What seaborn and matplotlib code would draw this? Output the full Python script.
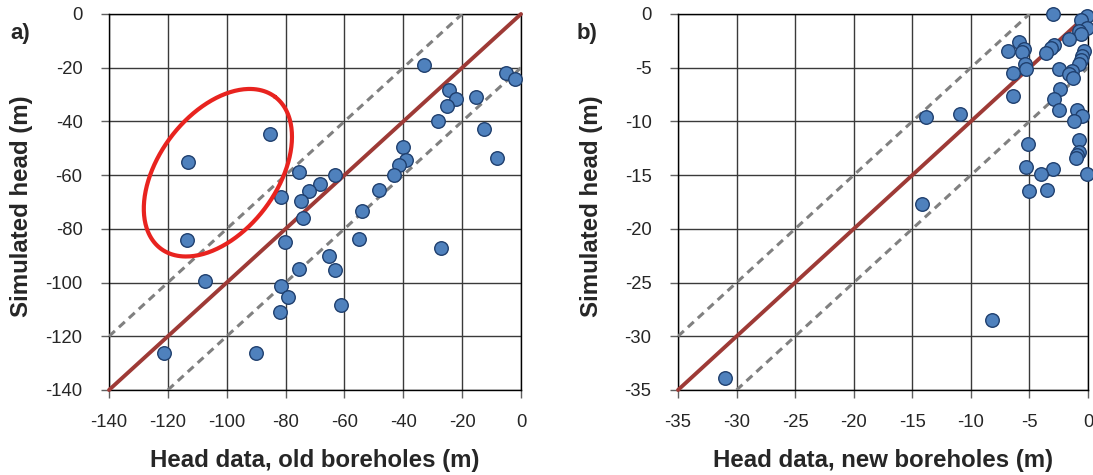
import numpy as np
import pandas as pd
import matplotlib
matplotlib.use("Agg")
import matplotlib.pyplot as plt
import seaborn as sns

# Panel a: old boreholes
old_obs = [-33, -5, -2, -24.4, -22.2, -15.3, -25.1, -28.1, -12.6, -85.3, -113.3,
           -40.2, -39.0, -41.3, -43.3, -8.2, -75.3, -63.2, -68.2, -71.9, -48.1,
           -81.7, -74.8, -54.1, -74.0, -113.4, -80.1, -55.0, -27.1, -65.2, -63.2,
           -75.3, -107.3, -81.7, -79.2, -81.8, -61.1, -121.2, -90.1]
old_sim = [-19.0, -21.9, -24.1, -28.4, -31.5, -30.8, -34.4, -40.0, -43.0, -44.7, -55.1,
           -49.4, -54.2, -56.4, -60.0, -53.5, -59.0, -60.0, -63.3, -65.8, -65.7,
           -68.2, -69.6, -73.4, -76.1, -84.1, -84.8, -83.6, -87.0, -90.1, -95.3,
           -95.0, -99.6, -101.3, -105.5, -111.0, -108.4, -126.3, -126.3]

# Panel b: new boreholes
new_obs = [-3.0, -0.1, -0.6, -0.1, -0.8, -0.6, -1.6, -5.9, -6.8, -5.5, -5.6, -2.9, -3.2,
           -3.6, -0.3, -0.5, -0.6, -0.8, -5.4, -5.3, -6.4, -2.5, -1.4, -1.6, -1.3, -6.4,
           -2.4, -2.9, -2.5, -0.9, -0.5, -1.2, -13.8, -10.9, -5.1, -0.8, -0.8, -0.9,
           -1.0, -5.3, -3.0, -4.0, -0.1, -5.0, -3.5, -14.2, -8.2, -31.0]
new_sim = [0.0, -0.2, -0.6, -1.3, -1.6, -1.9, -2.3, -2.6, -3.4, -3.3, -3.5, -2.9, -3.2,
           -3.6, -3.4, -3.9, -4.3, -4.7, -4.7, -5.1, -5.5, -5.1, -5.3, -5.6, -6.0, -7.6,
           -7.0, -7.9, -8.9, -8.9, -9.5, -10.0, -9.6, -9.3, -12.1, -11.7, -12.8, -13.1,
           -13.4, -14.2, -14.4, -14.9, -14.9, -16.5, -16.4, -17.7, -28.5, -33.9]

ticks_a = [-140, -120, -100, -80, -60, -40, -20, 0]
ticks_b = [-35, -30, -25, -20, -15, -10, -5, 0]
band_a = 20
band_b = 5

sns.set_theme(style="white")
plt.rcParams['font.family'] = ['Liberation Sans', 'DejaVu Sans']

W, H = 1093, 475
fig = plt.figure(figsize=(W / 100, H / 100), dpi=100)
ax_a = fig.add_axes([109 / W, 85 / H, 412 / W, 376 / H])
ax_b = fig.add_axes([678 / W, 85 / H, 410 / W, 376 / H])

pt_fill = "#4f81bd"
pt_edge = "#1f3f6e"
one_col = "#9e3a36"
dash_col = "#808080"


def setup(ax, ticks, band, xs, ys, xlabel, tag, tagx, ylab_x):
    lo, hi = ticks[0], ticks[-1]
    ax.set_xlim(lo, hi)
    ax.set_ylim(lo, hi)
    ax.set_xticks(ticks)
    ax.set_yticks(ticks)
    ax.set_xticklabels([str(t) for t in ticks])
    ax.set_yticklabels([str(t) for t in ticks])
    ax.grid(True, color="#3a3a3a", lw=1.0)
    ax.set_axisbelow(True)
    for s in ax.spines.values():
        s.set_visible(True)
        s.set_color("black")
        s.set_linewidth(1.0)
    ax.tick_params(axis="both", direction="out", length=6, width=1.0,
                   color="#606060", labelsize=13.3, left=True, bottom=True)
    ax.tick_params(axis="x", pad=11)
    ax.tick_params(axis="y", pad=13)
    # reference lines
    ax.plot([lo, hi], [lo, hi], color=one_col, lw=2.8, zorder=3, clip_on=False)
    ax.plot([lo, hi - band], [lo + band, hi], color=dash_col, lw=2.2,
            ls=(0, (2.6, 1.8)), zorder=3)
    ax.plot([lo + band, hi], [lo, hi - band], color=dash_col, lw=2.2,
            ls=(0, (2.6, 1.8)), zorder=3)
    df = pd.DataFrame({"obs": xs, "sim": ys})
    sns.scatterplot(data=df, x="obs", y="sim", ax=ax, s=95, color=pt_fill,
                    edgecolor=pt_edge, linewidth=1.0, zorder=4, clip_on=False)
    ax.set_xlabel(xlabel, fontsize=17.3, fontweight="bold", va="center")
    ax.set_ylabel("Simulated head (m)", fontsize=17.3, fontweight="bold", va="center")
    ax.xaxis.set_label_coords(0.5, (390 - 460) / 376)
    ax.yaxis.set_label_coords(ylab_x, (390 - 206) / 376)
    fig.text(tagx, 1 - 33 / H, tag, fontsize=16, fontweight="bold", va="center")


setup(ax_a, ticks_a, band_a, old_obs, old_sim, "Head data, old boreholes (m)", "a)",
      10 / W, (22 - 109) / 412)
setup(ax_b, ticks_b, band_b, new_obs, new_sim, "Head data, new boreholes (m)", "b)",
      577 / W, (592 - 678) / 410)

# highlight ellipse (annotation) in panel a
cx, cy = -103, -59.1
sx, sy = 412 / 140, 376 / 140
a_px, b_px, th = 95, 59, np.deg2rad(53)
t = np.linspace(0, 2 * np.pi, 300)
ex = cx + (a_px * np.cos(t) * np.cos(th) - b_px * np.sin(t) * np.sin(th)) / sx
ey = cy + (a_px * np.cos(t) * np.sin(th) + b_px * np.sin(t) * np.cos(th)) / sy
ax_a.plot(ex, ey, color="#e8231f", lw=3.0, zorder=5)

fig.savefig("out.png", dpi=100)
